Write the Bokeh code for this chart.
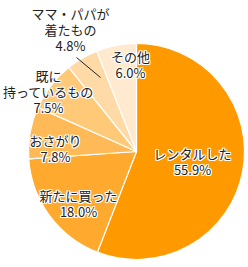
from bokeh.plotting import figure
from bokeh.models import Range1d, ColumnDataSource
from bokeh.core.properties import value
from bokeh.embed import file_html
from bokeh.resources import INLINE
import math

W, H = 248, 267

categories = ["レンタルした", "新たに買った", "おさがり", "既に\n持っているもの", "ママ・パパが\n着たもの", "その他"]
shares = [55.9, 18.0, 7.8, 7.5, 4.8, 6.0]
pct_labels = ["55.9%", "18.0%", "7.8%", "7.5%", "4.8%", "6.0%"]
colors = ["#FF9900", "#FFA92F", "#FFBA57", "#FFC978", "#FFDAA6", "#FFEACF"]

# layout (screen pixels)
cx, cy, R = 136, 151, 108
label_pos = [(192, 153), (78, 195), (55, 140), (48, 75), (70, 13), (130, 56)]
line_gap = 16
leader = [(76, 57), (100, 77)]

p = figure(width=W, height=H, x_range=Range1d(0, W), y_range=Range1d(0, H),
           output_backend="svg", toolbar_location=None, min_border=0,
           border_fill_color="white", background_fill_color="white")
p.axis.visible = False
p.grid.visible = False
p.outline_line_color = None

total = sum(shares)
starts, ends = [], []
acc = 0.0
for s in shares:
    starts.append(math.pi / 2 - acc / total * 2 * math.pi)
    acc += s
    ends.append(math.pi / 2 - acc / total * 2 * math.pi)

src = ColumnDataSource(dict(x=[cx] * len(shares), y=[H - cy] * len(shares),
                            start=starts, end=ends, color=colors))
p.wedge(x="x", y="y", radius=R, start_angle="start", end_angle="end",
        direction="clock", fill_color="color", line_color="white", line_width=1.2,
        source=src)

# leader line
p.line([leader[0][0], leader[1][0]], [H - leader[0][1], H - leader[1][1]],
       line_color="#222222", line_width=1)

xs, ys, ts = [], [], []
for cat, pct, (lx, ly) in zip(categories, pct_labels, label_pos):
    lines = cat.split("\n") + [pct]
    for i, t in enumerate(lines):
        xs.append(lx)
        ys.append(H - (ly + i * line_gap))
        ts.append(t)
tsrc = ColumnDataSource(dict(x=xs, y=ys, t=ts))
font = value("Noto Sans CJK JP")
for dx, dy in [(-1, 0), (1, 0), (0, -1), (0, 1), (-1, -1), (1, 1), (-1, 1), (1, -1)]:
    p.text(x="x", y="y", text="t", source=tsrc, text_font=font, text_font_size="13px",
           text_color="white", text_align="center", text_baseline="middle",
           x_offset=dx, y_offset=dy)
p.text(x="x", y="y", text="t", source=tsrc, text_font=font, text_font_size="13px",
       text_color="#222222", text_align="center", text_baseline="middle")

open("out.html", "w").write(file_html(p, INLINE))
